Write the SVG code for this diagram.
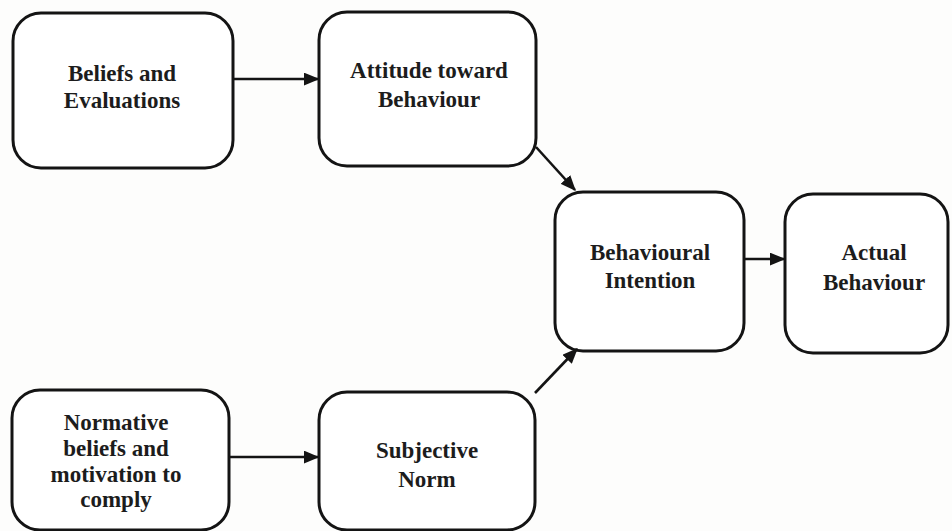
<svg xmlns="http://www.w3.org/2000/svg" width="952" height="531" viewBox="0 0 952 531">
  <style>
    .box { fill: #ffffff; stroke: #141414; stroke-width: 3; }
    .lbl { font-family: "Liberation Serif", "Times New Roman", serif; font-weight: bold; font-size: 23px; fill: #1c1c1c; text-anchor: middle; }
    .edge { stroke: #141414; stroke-width: 2.6; fill: none; marker-end: url(#head); }
  </style>
  <defs>
    <marker id="head" viewBox="0 0 12 10" refX="11" refY="5" markerWidth="6" markerHeight="5" markerUnits="strokeWidth" orient="auto">
      <path d="M0,0 L12,5 L0,10 Z" fill="#141414"/>
    </marker>
  </defs>
  <rect width="952" height="531" fill="#fdfdfc"/>

  <g id="beliefs">
    <rect class="box" x="13" y="13" width="220" height="155" rx="28"/>
    <text class="lbl" x="122" y="81">Beliefs and</text>
    <text class="lbl" x="122" y="108">Evaluations</text>
  </g>

  <g id="attitude">
    <rect class="box" x="319" y="12" width="217" height="154" rx="28"/>
    <text class="lbl" x="429" y="78">Attitude toward</text>
    <text class="lbl" x="429" y="107">Behaviour</text>
  </g>

  <g id="intention">
    <rect class="box" x="555" y="192" width="189" height="159" rx="28"/>
    <text class="lbl" x="650" y="260">Behavioural</text>
    <text class="lbl" x="650" y="288">Intention</text>
  </g>

  <g id="actual">
    <rect class="box" x="785" y="194" width="163" height="159" rx="28"/>
    <text class="lbl" x="874" y="260">Actual</text>
    <text class="lbl" x="874" y="290">Behaviour</text>
  </g>

  <g id="normative">
    <rect class="box" x="12" y="390" width="217" height="140" rx="28"/>
    <text class="lbl" x="116" y="430">Normative</text>
    <text class="lbl" x="116" y="456">beliefs and</text>
    <text class="lbl" x="116" y="482">motivation to</text>
    <text class="lbl" x="116" y="507">comply</text>
  </g>

  <g id="subjective">
    <rect class="box" x="319" y="392" width="216" height="138" rx="28"/>
    <text class="lbl" x="427" y="458">Subjective</text>
    <text class="lbl" x="427" y="487">Norm</text>
  </g>

  <g id="connectors">
    <line class="edge" x1="233" y1="79" x2="318" y2="79"/>
    <line class="edge" x1="536" y1="147" x2="575" y2="190"/>
    <line class="edge" x1="744" y1="259" x2="784" y2="259"/>
    <line class="edge" x1="229" y1="457" x2="318" y2="457"/>
    <line class="edge" x1="535" y1="393" x2="577" y2="349"/>
  </g>
</svg>
